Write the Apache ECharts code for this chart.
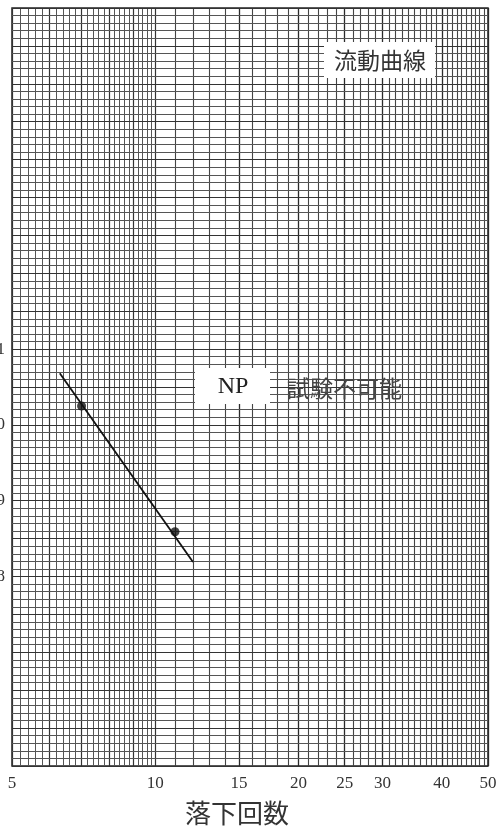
<!DOCTYPE html>
<html>
<head>
<meta charset="utf-8">
<script src="https://cdn.jsdelivr.net/npm/echarts@6/dist/echarts.min.js"></script>
<style>
html,body{margin:0;padding:0;background:#fff;}
#chart{width:500px;height:830px;}
</style>
</head>
<body>
<div id="chart"></div>
<script>
// ---- data ----
const xTickLabels = [5, 10, 15, 20, 25, 30, 40, 50];
const yTickLabels = [38, 39, 40, 41];
const fitLineX = [6.3, 12];
const fitLineY = [40.68, 38.19];
const pointX = [7, 11];
const pointY = [40.25, 38.59];
const xMin = 5, xMax = 50;
const yMin = 35.5, yMax = 45.5;

// ---- graph paper rulings (decoration) ----
const vLines = [];
for (let i = 0; i <= 25; i++) {
  const v = +(5 + i * 0.2).toFixed(1);
  const isInt = Math.abs(v - Math.round(v)) < 1e-6;
  vLines.push({ xAxis: v, lineStyle: { type: 'solid', color: isInt ? '#333' : '#555', width: isInt ? 1.2 : 1 } });
}
for (let v = 11; v <= 50; v++) {
  const major = [15, 20, 25, 30, 40, 50].indexOf(v) >= 0;
  vLines.push({ xAxis: v, lineStyle: { type: 'solid', color: major ? '#2a2a2a' : '#444', width: major ? 1.3 : 1.1 } });
}
const hLines = [];
for (let i = 0; i <= 100; i++) {
  const v = +(yMin + i * 0.1).toFixed(1);
  const major = i % 5 === 0;
  hLines.push({ yAxis: v, lineStyle: { type: 'solid', color: major ? '#333' : '#555', width: major ? 1.2 : 1 } });
}

const chart = echarts.init(document.getElementById('chart'), null, { renderer: 'canvas' });
chart.setOption({
  animation: false,
  backgroundColor: '#fff',
  grid: { left: 12, right: 12, top: 8, bottom: 64, containLabel: false, outerBoundsMode: 'none', show: true, borderColor: '#222', borderWidth: 1.5, backgroundColor: '#fff' },
  xAxis: {
    type: 'log', logBase: 10, min: xMin, max: xMax,
    name: '落下回数', nameLocation: 'middle', nameGap: 34,
    nameTextStyle: { fontFamily: 'Noto Sans CJK JP', fontSize: 26, color: '#333', padding: [0, 26, 0, 0] },
    axisLine: { show: false }, axisTick: { show: false },
    splitLine: { show: false }, minorSplitLine: { show: false },
    axisLabel: { customValues: xTickLabels, fontFamily: 'Liberation Serif', fontSize: 17, color: '#333', margin: 9 }
  },
  yAxis: {
    type: 'value', min: yMin, max: yMax,
    axisLine: { show: false }, axisTick: { show: false },
    splitLine: { show: false },
    axisLabel: { customValues: yTickLabels, fontFamily: 'Liberation Serif', fontSize: 17, color: '#333', margin: 7 }
  },
  graphic: [
    { type: 'rect', shape: { x: 324, y: 42, width: 111, height: 36 }, style: { fill: '#fff' }, z: 100 },
    { type: 'text', x: 380, y: 60, style: { text: '流動曲線', font: '23px "Noto Sans CJK JP"', fill: '#333', align: 'center', verticalAlign: 'middle' }, z: 101 },
    { type: 'rect', shape: { x: 195, y: 368, width: 75, height: 36 }, style: { fill: '#fff' }, z: 100 },
    { type: 'text', x: 233, y: 387, style: { text: 'NP', font: '24px "Liberation Serif"', fill: '#222', align: 'center', verticalAlign: 'middle' }, z: 101 },
    { type: 'text', x: 287, y: 388, style: { text: '試験不可能', font: '23px "Noto Sans CJK JP"', fill: '#444', align: 'left', verticalAlign: 'middle' }, z: 101 }
  ],
  series: [
    {
      type: 'line', data: [], silent: true, z: 1,
      markLine: { silent: true, symbol: ['none', 'none'], label: { show: false }, animation: false, lineStyle: { type: 'solid' }, data: vLines.concat(hLines) }
    },
    {
      type: 'line', z: 5,
      data: fitLineX.map((x, i) => [x, fitLineY[i]]),
      showSymbol: false, symbol: 'none',
      lineStyle: { color: '#111', width: 1.8 }
    },
    {
      type: 'scatter', z: 6,
      data: pointX.map((x, i) => [x, pointY[i]]),
      symbol: 'circle', symbolSize: 9,
      itemStyle: { color: '#111' }
    }
  ]
});
</script>
</body>
</html>
